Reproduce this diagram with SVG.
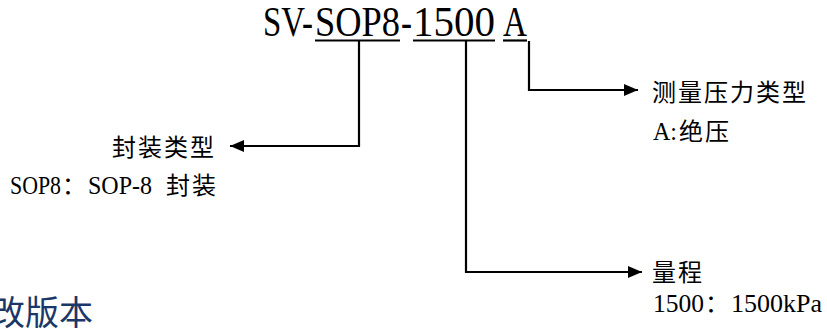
<svg xmlns="http://www.w3.org/2000/svg" width="827" height="329" viewBox="0 0 827 329">
<style>
.title{font-family:"Liberation Serif",serif;font-size:42px;fill:#000}
.cjk{font-family:"Noto Sans CJK SC",sans-serif;font-size:24px;letter-spacing:2px;fill:#000}
.lat{font-family:"Liberation Serif","Noto Sans CJK SC",serif;font-size:25px;fill:#000}
.ul{stroke:#000;stroke-width:2.2}
.conn{fill:none;stroke:#000;stroke-width:2.2}
.head{font-family:"Noto Sans CJK SC",sans-serif;font-size:34px;fill:#1b3768}
</style>
<defs>
<marker id="arr" markerWidth="14" markerHeight="12" refX="14" refY="6" orient="auto" markerUnits="userSpaceOnUse">
<path d="M0,0 L14,6 L0,12 Z" fill="#000"/>
</marker>
</defs>
<g id="title">
<text class="title" y="36"><tspan x="263" textLength="50" lengthAdjust="spacingAndGlyphs">SV-</tspan><tspan x="315" textLength="85" lengthAdjust="spacingAndGlyphs">SOP8</tspan><tspan x="401" textLength="11" lengthAdjust="spacingAndGlyphs">-</tspan><tspan x="413" textLength="82" lengthAdjust="spacingAndGlyphs">1500</tspan><tspan x="503" textLength="24" lengthAdjust="spacingAndGlyphs">A</tspan></text>
<line class="ul" x1="315" y1="40.5" x2="400" y2="40.5"/>
<line class="ul" x1="413" y1="40.5" x2="495" y2="40.5"/>
<line class="ul" x1="503" y1="40.5" x2="527" y2="40.5"/>
</g>
<g id="connectors">
<path class="conn" d="M359,41 V146 H230" marker-end="url(#arr)"/>
<path class="conn" d="M466,41 V272 H642" marker-end="url(#arr)"/>
<path class="conn" d="M529,41 V90 H638" marker-end="url(#arr)"/>
</g>
<g id="package">
<text class="cjk" x="112" y="156">封装类型</text>
<text y="194"><tspan class="lat" x="10" textLength="51" lengthAdjust="spacingAndGlyphs">SOP8</tspan><tspan class="cjk" x="62">：</tspan><tspan class="lat" x="88" textLength="64" lengthAdjust="spacingAndGlyphs">SOP-8</tspan><tspan class="cjk" x="166">封装</tspan></text>
</g>
<g id="pressure-type">
<text class="cjk" x="652" y="101">测量压力类型</text>
<text y="140"><tspan class="lat" x="653" textLength="24" lengthAdjust="spacingAndGlyphs">A:</tspan><tspan class="cjk" x="679">绝压</tspan></text>
</g>
<g id="range">
<text class="cjk" x="652" y="281">量程</text>
<text y="312"><tspan class="lat" x="653" textLength="51" lengthAdjust="spacingAndGlyphs">1500</tspan><tspan class="cjk" x="705">：</tspan><tspan class="lat" x="731" textLength="91" lengthAdjust="spacingAndGlyphs">1500kPa</tspan></text>
</g>
<g id="heading">
<text class="head" x="-9" y="325">改版本</text>
</g>
</svg>
